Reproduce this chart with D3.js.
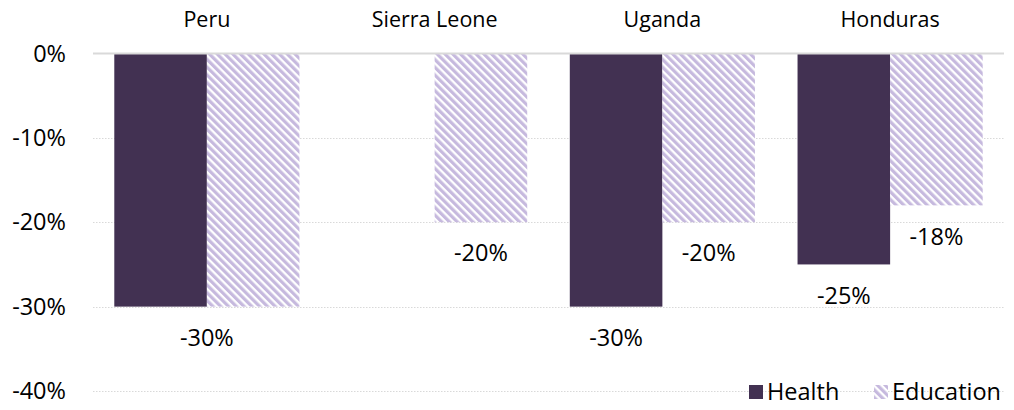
<!DOCTYPE HTML>
<html lang="en">
<head>
<meta charset="utf-8">
<title>Health and education spending cuts</title>
<style>
html, body {
    margin: 0;
    background: #fff;
 }
svg text {
    font-family: "Open Sans", Lato, sans-serif;
    fill: #000;
 }
</style>
</head>
<body>

<div id="chart"></div>

<script src="https://cdnjs.cloudflare.com/ajax/libs/d3/7.8.5/d3.min.js"></script>
<script>
(function() {
  'use strict';

// Data
const countries = ['Peru', 'Sierra Leone', 'Uganda', 'Honduras'];
const series = ['Health', 'Education'];
const health = [-0.30, null, -0.30, -0.25];
const education = [-0.30, -0.20, -0.20, -0.18];
const yTicks = [0, -0.1, -0.2, -0.3, -0.4];

// Configuration
const width = 1014;
const height = 410;
const left = 93;
const right = 1004;
const top = 53.5;
const bottom = 391;
const catSize = 21.5;
const numSize = 23.5;

const svg = d3.select('#chart')
  .append('svg')
  .attr('width', width)
  .attr('height', height);

// diagonal hatch for education
const defs = svg.append('defs');
const pat = defs.append('pattern')
  .attr('id', 'hatch')
  .attr('patternUnits', 'userSpaceOnUse')
  .attr('width', 5.5)
  .attr('height', 5.5)
  .attr('patternTransform', 'rotate(-45)');
pat.append('rect').attr('width', 5.5).attr('height', 5.5).attr('fill', '#fff');
pat.append('rect').attr('width', 3.2).attr('height', 5.5).attr('fill', '#c6b9de');

const fills = { Health: '#423152', Education: 'url(#hatch)' };

const x0 = d3.scaleBand()
  .domain(countries)
  .range([left, right])
  .paddingInner(0.187)
  .paddingOuter(0.0935);

const x1 = d3.scaleBand()
  .domain(series)
  .range([0, x0.bandwidth()]);

const y = d3.scaleLinear()
  .domain([-0.4, 0])
  .range([bottom, top]);

const pct = v => d3.format('.0%')(v).replace('−', '-');

// gridlines
svg.append('g')
  .selectAll('line')
  .data(yTicks.filter(d => d !== 0))
  .enter()
  .append('line')
  .attr('x1', left)
  .attr('x2', right)
  .attr('y1', d => Math.round(y(d)) + 0.5)
  .attr('y2', d => Math.round(y(d)) + 0.5)
  .attr('stroke', '#d9d9d9')
  .attr('stroke-width', 1)
  .attr('stroke-dasharray', '1.5,1.5');

// y axis labels
const yAxis = d3.axisLeft(y)
  .tickValues(yTicks)
  .tickFormat(pct)
  .tickSize(0)
  .tickPadding(27);

svg.append('g')
  .attr('transform', 'translate(' + left + ',0)')
  .call(yAxis)
  .call(g => g.select('.domain').remove())
  .selectAll('text')
  .attr('font-size', numSize)
  .attr('font-family', null);

// bars
const rows = countries.map((c, i) => ({ country: c, Health: health[i], Education: education[i] }));

const groups = svg.append('g')
  .selectAll('g')
  .data(rows)
  .enter()
  .append('g')
  .attr('transform', d => 'translate(' + x0(d.country) + ',0)');

groups.selectAll('rect')
  .data(d => series.map(s => ({ key: s, value: d[s] })).filter(d => d.value !== null))
  .enter()
  .append('rect')
  .attr('x', d => x1(d.key))
  .attr('width', x1.bandwidth())
  .attr('y', y(0))
  .attr('height', d => y(d.value) - y(0))
  .attr('fill', d => fills[d.key]);

// zero line
svg.append('line')
  .attr('x1', left)
  .attr('x2', right)
  .attr('y1', y(0))
  .attr('y2', y(0))
  .attr('stroke', '#d9d9d9')
  .attr('stroke-width', 2);

// category labels on top
const xAxis = d3.axisTop(x0).tickSize(0).tickPadding(0);
svg.append('g')
  .attr('transform', 'translate(0,27)')
  .call(xAxis)
  .call(g => g.select('.domain').remove())
  .selectAll('text')
  .attr('font-size', catSize)
  .attr('font-family', null)
  .attr('dy', 0);

// data labels
groups.each(function(d) {
  const g = d3.select(this);
  if (d.Health === d.Education) {
    g.append('text')
      .attr('x', x0.bandwidth() / 2)
      .attr('y', y(d.Health) + 31)
      .attr('dy', '0.35em')
      .attr('text-anchor', 'middle')
      .attr('font-size', numSize)
      .text(pct(d.Health));
    return;
  }
  series.forEach(s => {
    if (d[s] === null) return;
    g.append('text')
      .attr('x', x1(s) + x1.bandwidth() / 2)
      .attr('y', y(d[s]) + 31)
      .attr('dy', '0.35em')
      .attr('text-anchor', 'middle')
      .attr('font-size', numSize)
      .text(pct(d[s]));
  });
});

// legend
const legend = svg.append('g');
const legendX = [749, 874];
series.forEach((s, i) => {
  legend.append('rect')
    .attr('x', legendX[i])
    .attr('y', 385)
    .attr('width', 14)
    .attr('height', 14)
    .attr('fill', fills[s]);
  legend.append('text')
    .attr('x', legendX[i] + 18)
    .attr('y', 392)
    .attr('dy', '0.35em')
    .attr('font-size', numSize)
    .text(s);
});
}());
</script>
</body>
</html>
